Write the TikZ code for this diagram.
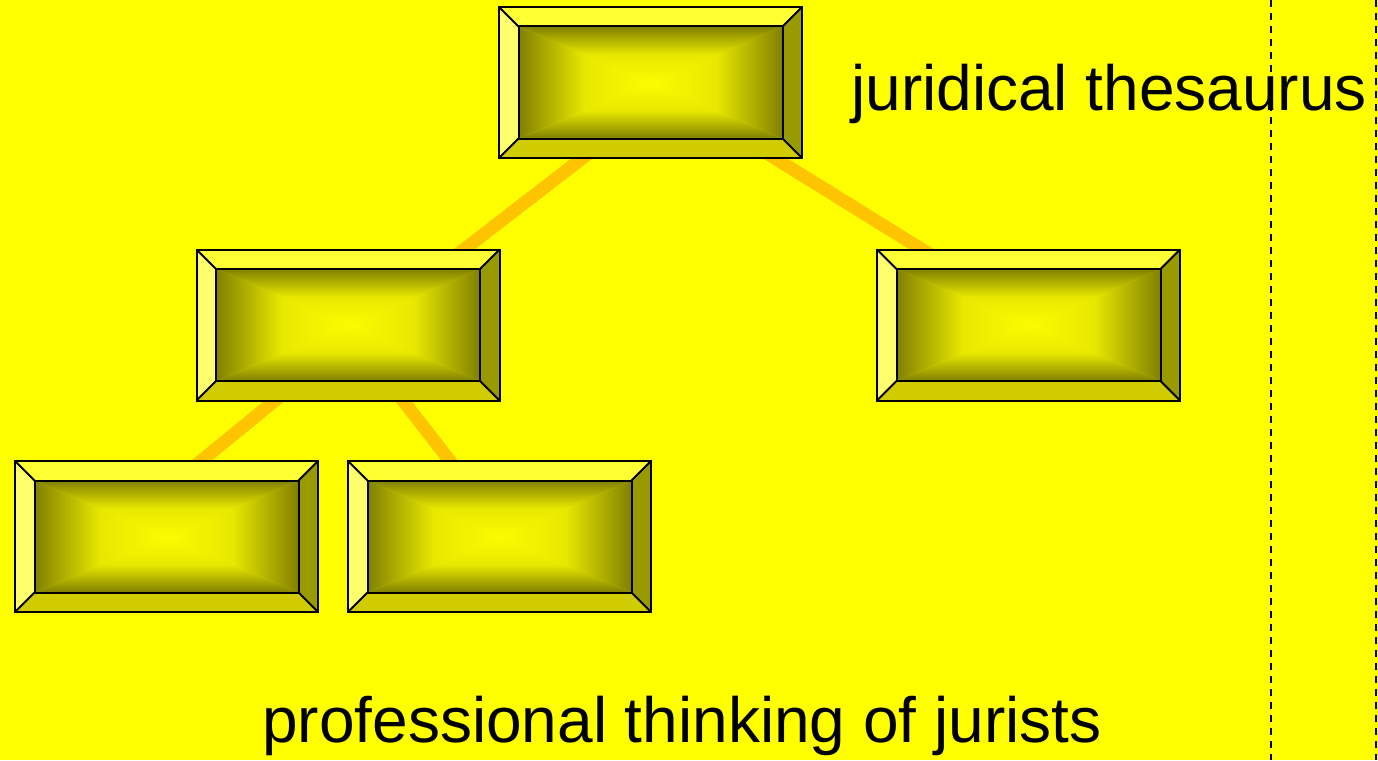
\documentclass[tikz,border=0pt]{standalone}
\usepackage{fontspec}
\setmainfont{Liberation Sans}
\usetikzlibrary{calc}
\pgfdeclarelayer{bg}
\pgfsetlayers{bg,main}
\definecolor{bgyellow}{RGB}{255,255,0}
\definecolor{conncol}{RGB}{255,196,0}
\definecolor{bevtop}{RGB}{255,255,51}
\definecolor{bevleft}{RGB}{255,255,110}
\definecolor{bevbot}{RGB}{208,204,0}
\definecolor{bevright}{RGB}{153,153,0}
\definecolor{innerdark}{RGB}{128,128,0}
\definecolor{innerlight}{RGB}{252,252,0}
\definecolor{innermid}{RGB}{232,232,0}
\tikzset{
  boxnode/.style={rectangle, minimum width=303pt, minimum height=151pt, inner sep=0pt, outer sep=0pt},
  conn/.style={draw=conncol, line width=13pt, shorten <=-14pt, shorten >=-14pt},
  outline/.style={draw=black, line width=2pt, line join=miter},
  lbl/.style={font=\fontsize{64}{72}\selectfont, inner sep=0pt, text=black},
  sep/.style={draw=black, line width=1.5pt, dash pattern=on 7pt off 6pt},
}
\newcommand\bevelbox[2]{%
  \node[boxnode] (#1) at (#2) {};
  \coordinate (#1-a) at ($(#1.north west)+(19.5,19.5)$);
  \coordinate (#1-b) at ($(#1.north east)+(-19.5,19.5)$);
  \coordinate (#1-c) at ($(#1.south east)+(-19.5,-19.5)$);
  \coordinate (#1-d) at ($(#1.south west)+(19.5,-19.5)$);
  \fill[bevtop] (#1.north west) -- (#1.north east) -- (#1-b) -- (#1-a) -- cycle;
  \fill[bevright] (#1.north east) -- (#1.south east) -- (#1-c) -- (#1-b) -- cycle;
  \fill[bevbot] (#1.south east) -- (#1.south west) -- (#1-d) -- (#1-c) -- cycle;
  \fill[bevleft] (#1.south west) -- (#1.north west) -- (#1-a) -- (#1-d) -- cycle;
  \fill[innermid] (#1-a) rectangle (#1-c);
  \shade[left color=innerdark, right color=innerlight, middle color=innermid] (#1-a) -- (#1.center) -- (#1-d) -- cycle;
  \shade[left color=innerlight, right color=innerdark, middle color=innermid] (#1-b) -- (#1.center) -- (#1-c) -- cycle;
  \shade[top color=innerdark, bottom color=innerlight, middle color=innermid] (#1-a) -- (#1-b) -- (#1.center) -- cycle;
  \shade[top color=innerlight, bottom color=innerdark, middle color=innermid] (#1-d) -- (#1-c) -- (#1.center) -- cycle;
  \draw[outline] (#1.north west) rectangle (#1.south east);
  \draw[outline] (#1-a) rectangle (#1-c);
  \draw[outline] (#1.north west) -- (#1-a) (#1.north east) -- (#1-b)
                 (#1.south east) -- (#1-c) (#1.south west) -- (#1-d);
}
\begin{document}
\begin{tikzpicture}[x=1pt,y=-1pt]
\useasboundingbox (0,0) rectangle (1378,760);
\bevelbox{top}{650.5,82.5}
\bevelbox{ml}{348,325}
\bevelbox{rt}{1028.5,325}
\bevelbox{bl}{166.5,536.5}
\bevelbox{bm}{499.5,536.5}
\begin{pgfonlayer}{bg}
  \fill[bgyellow] (0,0) rectangle (1378,760);
  \draw[conn] ($(top.south)+(-68,0)$) -- ($(ml.north)+(116,0)$);
  \draw[conn] ($(top.south)+(124,0)$) -- ($(rt.north)+(-106.5,0)$);
  \draw[conn] ($(ml.south)+(-73,0)$) -- ($(bl.north)+(34.5,0)$);
  \draw[conn] ($(ml.south)+(55,0)$) -- ($(bm.north)+(-49.5,0)$);
\end{pgfonlayer}
\node[lbl, anchor=base west] (jt) at (851,110) {juridical thesaurus};
\node[lbl, anchor=base west] (ptj) at (262,742) {professional thinking of jurists};
\draw[sep] (1271,0) -- (1271,760);
\draw[sep] (1376,0) -- (1376,760);
\end{tikzpicture}
\end{document}
